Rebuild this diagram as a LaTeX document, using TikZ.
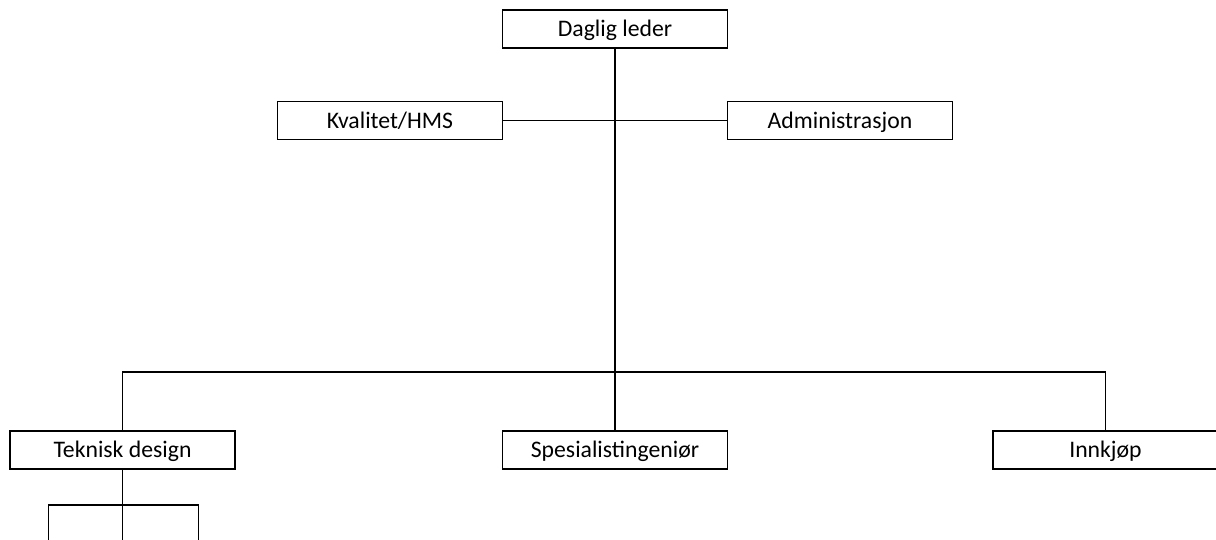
\documentclass[tikz,border=0pt]{standalone}
\usepackage{fontspec}
\setmainfont{Carlito}
\usepackage{tikz}
\usetikzlibrary{shapes.geometric, arrows}
\tikzstyle{unit} = [rectangle, minimum width=4.5cm, minimum height=0.76cm, text height=8.7pt, text depth=0pt, text centered, draw=black, line width=1pt, fill=white, font=\fontsize{13.5}{15}\selectfont]
\tikzstyle{line} = [line width=0.9pt]
\tikzstyle{joint} = [coordinate]

\begin{document}
\begin{tikzpicture}[node distance=2cm]
	\useasboundingbox (0,0) rectangle (24.32,-10.8);
	
	\node (leder) [unit] at (12.3,-0.58) {Daglig leder};
	\node (kval) [unit, below of=leder, xshift=-4.5cm, yshift=0.17cm] {Kvalitet/HMS};
	\node (admin) [unit, right of=kval, xshift=7cm] {Administrasjon};
	
	\node (spes) [unit, below of=leder, yshift=-6.42cm] {Spesialistingeniør};
	\node (tek) [unit, left of=spes, xshift=-7.85cm] {Teknisk design};
	\node (innk) [unit, right of=spes, xshift=7.81cm] {Innkjøp};
	
	\node (bus) [joint, above of=spes, yshift=-0.44cm] {};
	\node (sub) [joint, below of=tek, yshift=0.9cm] {};
	\node (subl) [joint, left of=sub, xshift=0.52cm] {};
	\node (subr) [joint, right of=sub, xshift=-0.48cm] {};
	\node (sub-end) [joint, below of=sub, yshift=1.3cm] {};
	\node (subl-end) [joint, below of=subl, yshift=1.3cm] {};
	\node (subr-end) [joint, below of=subr, yshift=1.3cm] {};
	
	\draw [line] (kval) -- (admin);
	\draw [line] (leder) -- (spes);
	\draw [line] (tek) |- (bus) -| (innk);
	\draw [line] (tek) -- (sub-end);
	\draw [line] (subl-end) |- (sub) -| (subr-end);
	
\end{tikzpicture}
\end{document}
